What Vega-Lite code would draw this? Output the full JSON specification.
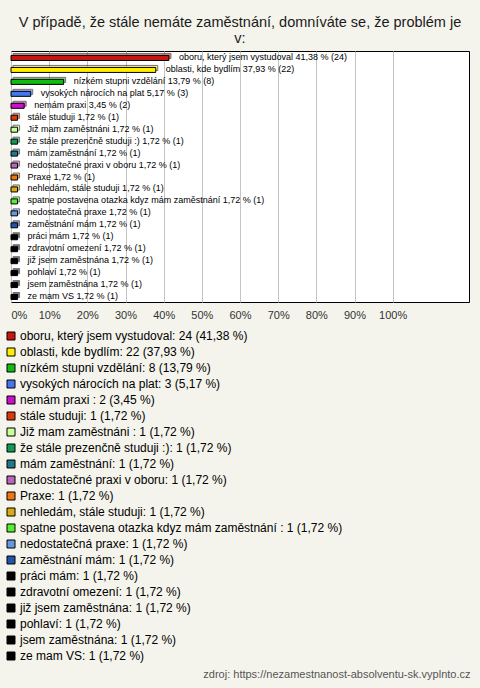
{
  "$schema": "https://vega.github.io/schema/vega-lite/v6.json",
  "width": 458,
  "height": 251,
  "autosize": {"type": "none"},
  "padding": {"left": 11, "top": 51, "right": 11, "bottom": 386},
  "background": "#f4f4ec",
  "title": {
    "text": ["V případě, že stále nemáte zaměstnání, domníváte se, že problém je", "v:"],
    "anchor": "middle",
    "font": "Liberation Sans",
    "fontSize": 14.5,
    "fontWeight": "normal",
    "color": "#1a1a1a",
    "lineHeight": 16,
    "offset": 5
  },
  "config": {
    "view": {"fill": "white", "stroke": "black", "strokeWidth": 1},
    "axis": {"labelFont": "Liberation Sans"},
    "legend": {
      "orient": "none", "legendX": -6, "legendY": 279, "title": null,
      "direction": "vertical", "columns": 1,
      "symbolType": "square", "symbolSize": 64, "symbolStrokeColor": "black", "symbolStrokeWidth": 1, "symbolOpacity": 1,
      "labelFont": "Liberation Sans", "labelFontSize": 12, "labelColor": "black", "labelLimit": 600,
      "rowPadding": 4, "labelOffset": 3
    }
  },
  "data": {
    "values": [
      {"order": 1, "label": "oboru, který jsem vystudoval: 24 (41,38 %)", "bar": "oboru, který jsem vystudoval 41,38 % (24)", "pct": 41.38},
      {"order": 2, "label": "oblasti, kde bydlím: 22 (37,93 %)", "bar": "oblasti, kde bydlím 37,93 % (22)", "pct": 37.93},
      {"order": 3, "label": "nízkém stupni vzdělání: 8 (13,79 %)", "bar": "nízkém stupni vzdělání 13,79 % (8)", "pct": 13.79},
      {"order": 4, "label": "vysokých nárocích na plat: 3 (5,17 %)", "bar": "vysokých nárocích na plat 5,17 % (3)", "pct": 5.17},
      {"order": 5, "label": "nemám praxi : 2 (3,45 %)", "bar": "nemám praxi  3,45 % (2)", "pct": 3.45},
      {"order": 6, "label": "stále studuji: 1 (1,72 %)", "bar": "stále studuji 1,72 % (1)", "pct": 1.72},
      {"order": 7, "label": "Již mam zaměstnáni : 1 (1,72 %)", "bar": "Již mam zaměstnáni  1,72 % (1)", "pct": 1.72},
      {"order": 8, "label": "že stále prezenčně studuji :): 1 (1,72 %)", "bar": "že stále prezenčně studuji :) 1,72 % (1)", "pct": 1.72},
      {"order": 9, "label": "mám zaměstnání: 1 (1,72 %)", "bar": "mám zaměstnání 1,72 % (1)", "pct": 1.72},
      {"order": 10, "label": "nedostatečné praxi v oboru: 1 (1,72 %)", "bar": "nedostatečné praxi v oboru 1,72 % (1)", "pct": 1.72},
      {"order": 11, "label": "Praxe: 1 (1,72 %)", "bar": "Praxe 1,72 % (1)", "pct": 1.72},
      {"order": 12, "label": "nehledám, stále studuji: 1 (1,72 %)", "bar": "nehledám, stále studuji 1,72 % (1)", "pct": 1.72},
      {"order": 13, "label": "spatne postavena otazka kdyz mám zaměstnání : 1 (1,72 %)", "bar": "spatne postavena otazka kdyz mám zaměstnání  1,72 % (1)", "pct": 1.72},
      {"order": 14, "label": "nedostatečná praxe: 1 (1,72 %)", "bar": "nedostatečná praxe 1,72 % (1)", "pct": 1.72},
      {"order": 15, "label": "zaměstnání mám: 1 (1,72 %)", "bar": "zaměstnání mám 1,72 % (1)", "pct": 1.72},
      {"order": 16, "label": "práci mám: 1 (1,72 %)", "bar": "práci mám 1,72 % (1)", "pct": 1.72},
      {"order": 17, "label": "zdravotní omezení: 1 (1,72 %)", "bar": "zdravotní omezení 1,72 % (1)", "pct": 1.72},
      {"order": 18, "label": "již jsem zaměstnána: 1 (1,72 %)", "bar": "již jsem zaměstnána 1,72 % (1)", "pct": 1.72},
      {"order": 19, "label": "pohlaví: 1 (1,72 %)", "bar": "pohlaví 1,72 % (1)", "pct": 1.72},
      {"order": 20, "label": "jsem zaměstnána: 1 (1,72 %)", "bar": "jsem zaměstnána 1,72 % (1)", "pct": 1.72},
      {"order": 21, "label": "ze mam VS: 1 (1,72 %)", "bar": "ze mam VS 1,72 % (1)", "pct": 1.72}
    ]
  },
  "encoding": {
    "y": {"field": "label", "type": "nominal", "sort": {"field": "order"}, "axis": null, "scale": {"paddingInner": 0, "paddingOuter": 0}},
    "x": {
      "field": "pct", "type": "quantitative",
      "scale": {"domain": [0, 120], "nice": false},
      "axis": {
        "values": [0, 10, 20, 30, 40, 50, 60, 70, 80, 90, 100],
        "labelExpr": "datum.value + '%'",
        "grid": true, "gridColor": "#c4c4c4", "ticks": false, "domain": false,
        "labelFontSize": 11, "labelColor": "#333333", "labelPadding": 7, "labelFlush": true,
        "title": "zdroj: https://nezamestnanost-absolventu-sk.vyplnto.cz",
        "titleFont": "Liberation Sans", "titleFontSize": 11, "titleFontWeight": "normal",
        "titleColor": "#555555", "titleAlign": "right", "titleBaseline": "middle",
        "titleX": 459, "titleY": 372, "titleAnchor": "end"
      }
    },
    "color": {"field": "label", "type": "nominal", "sort": {"field": "order"},
      "scale": {"range": ["#c8160c", "#ffee00", "#11bb11", "#4477ee", "#cc11cc", "#dd3a0a", "#ccff99", "#119955", "#227788", "#bb66bb", "#ee7711", "#ddaa11", "#55ee33", "#6699dd", "#2255aa", "#000000", "#000000", "#000000", "#000000", "#000000", "#000000"]}}
  },
  "layer": [
    {
      "mark": {"type": "bar", "size": 5, "xOffset": 2, "x2Offset": 2, "yOffset": -1, "y2Offset": -1, "opacity": 0.55, "stroke": "black", "strokeWidth": 1}
    },
    {
      "mark": {"type": "bar", "size": 5, "yOffset": 1, "y2Offset": 1, "stroke": "black", "strokeWidth": 1, "opacity": 1}
    },
    {
      "mark": {"type": "text", "align": "left", "baseline": "middle", "dx": 10, "font": "Liberation Sans", "fontSize": 9},
      "encoding": {"text": {"field": "bar"}, "color": {"value": "black"}}
    }
  ]
}
